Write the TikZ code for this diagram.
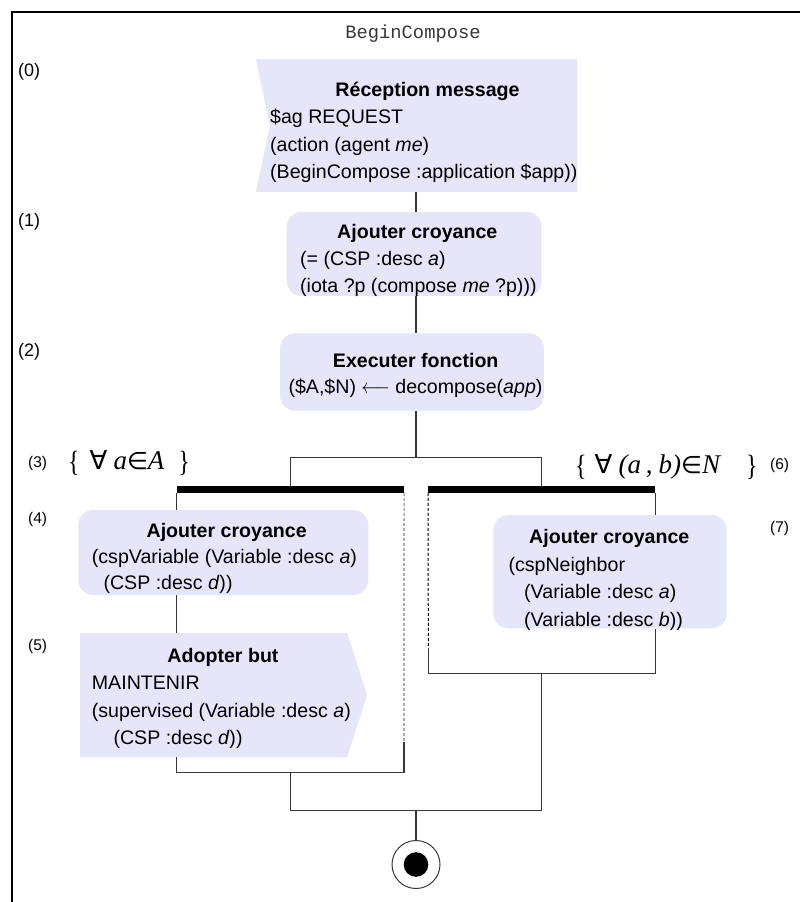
\documentclass[tikz,border=0pt]{standalone}
\usepackage{fontspec}
\setmainfont{Liberation Sans}
\newfontfamily\monofont{Liberation Mono}
\newfontfamily\serifm{Liberation Serif}
\newfontfamily\symf{DejaVu Sans}
\usetikzlibrary{calc}
\definecolor{lav}{RGB}{230,230,250}
\definecolor{ln}{RGB}{55,55,55}
\newcommand{\brL}{\raisebox{-2pt}{\scalebox{1}[1.22]{\serifm\fontsize{24}{24}\selectfont\{}}}
\newcommand{\brR}{\raisebox{-2pt}{\scalebox{1}[1.22]{\serifm\fontsize{24}{24}\selectfont\}}}}
\newcommand{\vr}[1]{{\serifm\itshape\fontsize{27}{27}\selectfont #1}}
\newcommand{\syA}{{\symf\fontsize{26}{26}\selectfont ∀}}
\newcommand{\syE}{{\symf\fontsize{24}{24}\selectfont ∈}}
\begin{document}
\begin{tikzpicture}[x=1pt,y=-1pt,
  conn/.style={draw=ln, line width=1.1pt},
  dashg/.style={draw=gray, line width=1.1pt, dash pattern=on 3pt off 2pt},
  dashk/.style={draw=black, line width=1pt, dash pattern=on 3pt off 2pt},
  frame/.style={draw=black, line width=1.2pt},
  barbox/.style={fill=black, inner sep=0, minimum width=227pt, minimum height=6.7pt},
  rbox/.style={fill=lav, rounded corners=15pt, inner sep=0},
  sbox/.style={inner sep=0},
  tt/.style={font=\fontsize{19.6}{24}\selectfont, inner sep=0, anchor=base west},
  ttl/.style={font=\fontsize{19.6}{24}\selectfont\bfseries, inner sep=0, anchor=base},
  lbl/.style={font=\fontsize{15.5}{18}\selectfont, inner sep=0, anchor=west},
  lblb/.style={font=\fontsize{18}{20}\selectfont, inner sep=0, anchor=west},
  mth/.style={inner sep=0, anchor=west}]
\useasboundingbox (0,0) rectangle (800,902);
\draw[frame] (12,902) -- (12,12) -- (800,12);
\node[font=\monofont\fontsize{18.8}{20}\selectfont, text=ln, inner sep=0] (title) at (413,33.3) {BeginCompose};

% shapes
\node[sbox, minimum width=321pt, minimum height=132.4pt] (n0) at (416.5,125.5) {};
\fill[lav] (n0.north west) -- (n0.north east) -- (n0.south east) -- (n0.south west) -- ($(n0.west)+(14,0)$) -- cycle;
\node[rbox, minimum width=255pt, minimum height=84.3pt] (n1) at (414.2,253.9) {};
\node[rbox, minimum width=264pt, minimum height=77.4pt] (n2) at (412,372) {};
\node[rbox, minimum width=290pt, minimum height=85pt] (n4) at (223.3,552.5) {};
\node[sbox, minimum width=287pt, minimum height=123.7pt] (n5) at (223.5,695.2) {};
\fill[lav] (n5.north west) -- ($(n5.north east)+(-20,0)$) -- (n5.east) -- ($(n5.south east)+(-20,0)$) -- (n5.south west) -- cycle;
\node[rbox, minimum width=233.4pt, minimum height=113.3pt] (n7) at (610,571.7) {};
\node[barbox] (bar1) at (290.35,489.35) {};
\node[barbox] (bar2) at (541.8,489.35) {};
\node[circle, draw=ln, line width=1pt, minimum size=48pt, inner sep=0] (endc) at (416,864.5) {};
\node[circle, fill=black, minimum size=24.6pt, inner sep=0] (endd) at (endc.center) {};

% connectors
\coordinate (sp) at (416,0);
\draw[conn] (n0.south -| sp) -- (n1.north -| sp);
\draw[conn] (n1.south -| sp) -- (n2.north -| sp);
\coordinate (fk) at (416,457.5);
\draw[conn] (n2.south -| sp) -- (fk);
\draw[conn] (bar1.north) |- (fk) -| (bar2.north);
\draw[conn] (bar1.south west) -- (n4.north -| bar1.south west);
\draw[conn] (n4.south -| bar1.south west) -- (n5.north -| bar1.south west);
\coordinate (d1) at (404,741.7);
\coordinate (j1) at (290.35,772.3);
\draw[conn] (n5.south -| bar1.south west) |- (d1 |- j1) -- (d1);
\draw[dashg] (bar1.south east) -- (d1);
\draw[conn] (bar2.south east) -- (n7.north -| bar2.south east);
\coordinate (d2) at (428.3,648);
\coordinate (j2) at (541.8,673.7);
\draw[conn] (n7.south -| bar2.south east) |- (d2 |- j2) -- (d2);
\draw[dashk] (bar2.south west) -- (d2);
\coordinate (jf) at (416,810.7);
\draw[conn] (j1) |- (jf) -| (j2);
\draw[conn] (jf) -- (endc.north);

% texts
\node[ttl] (t0) at (427.5,96.5) {Réception message};
\node[tt] (t0a) at (270,123.8) {\$ag REQUEST};
\node[tt] (t0b) at (270,151.1) {(action (agent \textit{me})};
\node[tt] (t0c) at (270,178.4) {(BeginCompose :application \$app))};

\node[ttl] (t1) at (417.3,238.8) {Ajouter croyance};
\node[tt] (t1a) at (300,265.8) {(= (CSP :desc \textit{a})};
\node[tt] (t1b) at (300,292.8) {(iota ?p (compose \textit{me} ?p)))};

\node[ttl] (t2) at (415.7,367) {Executer fonction};
\node[tt, anchor=base] (t2a) at (415.5,393.5) {(\$A,\$N) \scalebox{0.85}[1]{$\longleftarrow$} decompose(\textit{app})};

\node[ttl] (t4) at (226.7,537) {Ajouter croyance};
\node[tt] (t4a) at (91.7,563) {(cspVariable (Variable :desc \textit{a})};
\node[tt] (t4b) at (103.3,589.5) {(CSP :desc \textit{d}))};

\node[ttl] (t5) at (223,662) {Adopter but};
\node[tt] (t5a) at (91.7,689.5) {MAINTENIR};
\node[tt] (t5b) at (91.7,717) {(supervised (Variable :desc \textit{a})};
\node[tt] (t5c) at (113.3,744.5) {(CSP :desc \textit{d}))};

\node[ttl] (t7) at (609.3,543.8) {Ajouter croyance};
\node[tt] (t7a) at (508.3,571.3) {(cspNeighbor};
\node[tt] (t7b) at (524,598.8) {(Variable :desc \textit{a})};
\node[tt] (t7c) at (524,626.3) {(Variable :desc \textit{b}))};

% labels
\node[lblb] (l0) at (18,72) {(0)};
\node[lblb] (l1) at (18,222) {(1)};
\node[lblb] (l2) at (18,352) {(2)};
\node[lbl] (l3) at (28,463) {(3)};
\node[lbl] (l4) at (28,519) {(4)};
\node[lbl] (l5) at (28,646.7) {(5)};
\node[lbl] (l6) at (770,465) {(6)};
\node[lbl] (l7) at (770,528) {(7)};

\node[mth] (m1) at (68,463) {\brL\hspace{10pt}\syA\hspace{6pt}\vr{a}\syE\vr{A}\hspace{14pt}\brR};
\node[mth] (m2) at (575,466.7) {\brL\hspace{8pt}\syA\hspace{6pt}\vr{(a\hspace{5pt},\hspace{6pt}b)}\syE\vr{N}\hspace{26pt}\brR};
\end{tikzpicture}
\end{document}
